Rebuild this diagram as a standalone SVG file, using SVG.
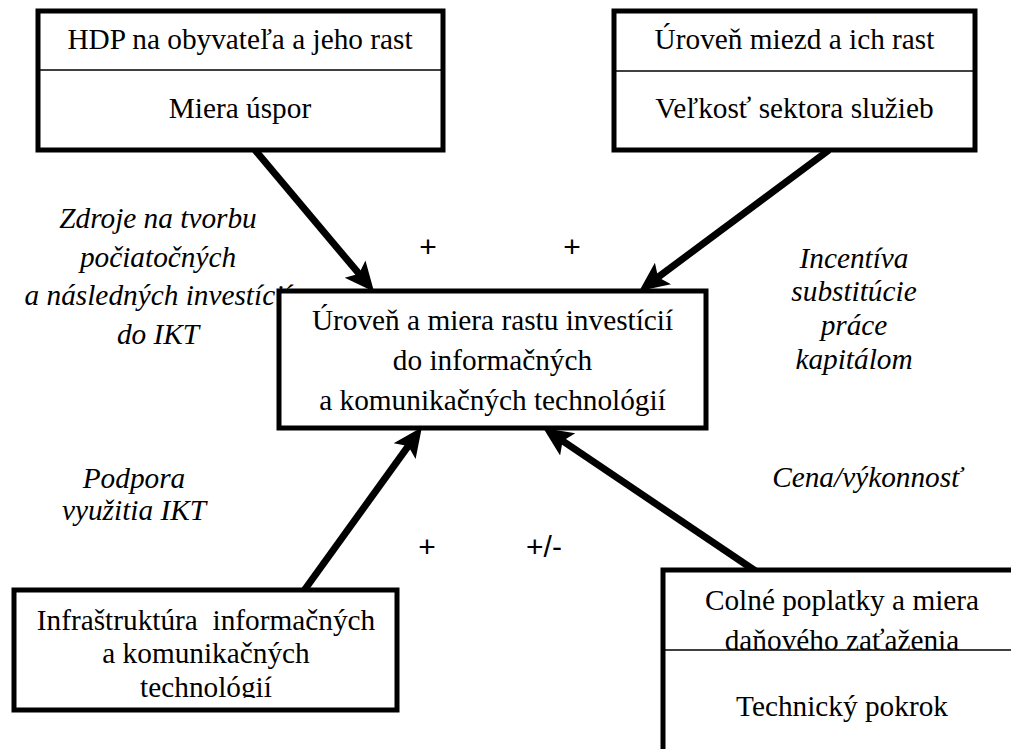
<svg xmlns="http://www.w3.org/2000/svg" width="1011" height="749" viewBox="0 0 1011 749">
<style>
.box{fill:#fff;stroke:#000;stroke-width:5}
.div{stroke:#000;stroke-width:1.5}
.t{font-family:'Liberation Serif','Tinos','Times New Roman','DejaVu Serif',serif;font-size:29.3px;fill:#000;text-anchor:middle}
.i{font-family:'Liberation Serif','Tinos','Times New Roman','DejaVu Serif',serif;font-size:29.3px;font-style:italic;fill:#000;text-anchor:middle}
.s{font-family:'Liberation Sans',Arial,sans-serif;font-size:30px;fill:#000;text-anchor:middle}
.con{fill:none;stroke:#000;stroke-width:7}
</style>
<defs>
<marker id="ah" markerUnits="userSpaceOnUse" markerWidth="32" markerHeight="32" viewBox="0 -13 26 26" refX="9" refY="0" orient="auto">
<path d="M24,0 L0,-11 L5,0 L0,11 Z" fill="#000"/>
</marker>
<clipPath id="clipBL"><rect x="0" y="560" width="420" height="138"/></clipPath>
</defs>
<g id="labels">
<text class="i" x="158" y="228">Zdroje na tvorbu</text>
<text class="i" x="158" y="267">počiatočných</text>
<text class="i" x="158" y="305">a následných investícií</text>
<text class="i" x="158" y="344">do IKT</text>
<text class="i" x="854" y="268">Incentíva</text>
<text class="i" x="854" y="301">substitúcie</text>
<text class="i" x="854" y="335">práce</text>
<text class="i" x="854" y="369">kapitálom</text>
<text class="i" x="867" y="487">Cena/výkonnosť</text>
<text class="i" x="134" y="488">Podpora</text>
<text class="i" x="134" y="520">využitia IKT</text>
<text class="s" x="428" y="257">+</text>
<text class="s" x="572" y="257">+</text>
<text class="s" x="427" y="557">+</text>
<text class="s" x="544" y="557">+/-</text>
</g>
<g id="connectors">
<path class="con" d="M255,150 L362.2,277.6" marker-end="url(#ah)"/>
<path class="con" d="M829,150 L654.1,280.1" marker-end="url(#ah)"/>
<path class="con" d="M303,592 L411.1,442.1" marker-end="url(#ah)"/>
<path class="con" d="M757,572 L558.5,438.2" marker-end="url(#ah)"/>
</g>
<g id="node-hdp">
<rect class="box" x="38" y="11" width="405" height="139"/>
<line class="div" x1="38" y1="70" x2="443" y2="70"/>
<text class="t" x="240" y="49">HDP na obyvateľa a jeho rast</text>
<text class="t" x="240" y="118">Miera úspor</text>
</g>
<g id="node-mzdy">
<rect class="box" x="614" y="11" width="361" height="139"/>
<line class="div" x1="614" y1="71" x2="975" y2="71"/>
<text class="t" x="794.5" y="49">Úroveň miezd a ich rast</text>
<text class="t" x="794.5" y="118">Veľkosť sektora služieb</text>
</g>
<g id="node-center">
<rect class="box" x="279" y="291" width="427" height="137"/>
<text class="t" x="492.5" y="330">Úroveň a miera rastu investícií</text>
<text class="t" x="492.5" y="370">do informačných</text>
<text class="t" x="492.5" y="410">a komunikačných technológií</text>
</g>
<g id="node-infra">
<rect class="box" x="14" y="590" width="383" height="120"/>
<g clip-path="url(#clipBL)">
<text class="t" x="206" y="630" xml:space="preserve">Infraštruktúra  informačných</text>
<text class="t" x="206" y="663">a komunikačných</text>
<text class="t" x="206" y="697">technológií</text>
</g>
</g>
<g id="node-colne">
<rect class="box" x="663" y="570" width="400" height="250"/>
<text class="t" x="842" y="610">Colné poplatky a miera</text>
<text class="t" x="842" y="650">daňového zaťaženia</text>
<line class="div" x1="663" y1="650" x2="1063" y2="650"/>
<text class="t" x="842" y="716">Technický pokrok</text>
</g>
</svg>
